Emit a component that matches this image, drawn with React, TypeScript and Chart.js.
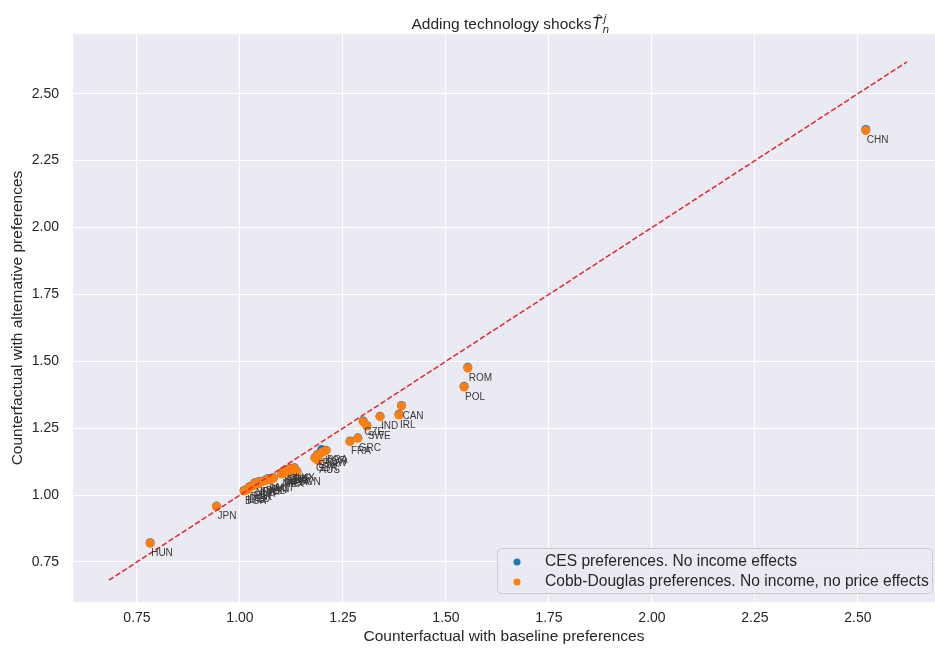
import { useEffect, useRef } from "react";
import { Chart, registerables } from "chart.js";

Chart.register(...registerables);

// Country codes and the two counterfactual outcomes per country
const countries = [
  "CHN", "ROM", "POL", "CAN", "IRL", "IND", "CZE", "SWE", "GRC", "FRA",
  "BRA", "ROW", "ESP", "GBR", "AUS", "KOR", "LUX", "TWN", "ITA", "LVA",
  "MEX", "USA", "AUT", "FIN", "BEL", "PRT", "NLD", "EST", "DEU", "LTU",
  "DNK", "JPN", "HUN", "TUR", "SVK", "SVN", "IDN", "RUS", "BGR", "CYP",
  "MLT",
];

// x: counterfactual with baseline preferences
const baselineValues = [
  2.519, 1.553, 1.544, 1.392, 1.386, 1.34, 1.299, 1.308, 1.286, 1.267,
  1.209, 1.198, 1.188, 1.182, 1.19, 1.204, 1.132, 1.138, 1.126, 1.105,
  1.101, 1.117, 1.081, 1.073, 1.061, 1.051, 1.036, 1.031, 1.02, 1.015,
  1.024, 0.943, 0.782, 1.121, 1.109, 1.068, 1.046, 1.112, 1.01, 1.044,
  1.107,
];

// y: CES preferences, no income effects
const cesValues = [
  2.366, 1.478, 1.407, 1.335, 1.302, 1.295, 1.277, 1.26, 1.214, 1.202,
  1.168, 1.17, 1.152, 1.14, 1.131, 1.165, 1.102, 1.089, 1.096, 1.089,
  1.081, 1.088, 1.065, 1.058, 1.055, 1.051, 1.046, 1.036, 1.024, 1.021,
  1.032, 0.959, 0.822, 1.1, 1.092, 1.062, 1.051, 1.096, 1.017, 1.043,
  1.085,
];

// y: Cobb-Douglas preferences, no income and no price effects
const cobbDouglasValues = [
  2.362, 1.475, 1.404, 1.333, 1.299, 1.293, 1.274, 1.258, 1.212, 1.2,
  1.166, 1.158, 1.15, 1.138, 1.129, 1.163, 1.1, 1.087, 1.094, 1.087,
  1.079, 1.086, 1.063, 1.056, 1.053, 1.049, 1.044, 1.034, 1.022, 1.019,
  1.03, 0.957, 0.82, 1.098, 1.09, 1.06, 1.049, 1.094, 1.015, 1.041,
  1.083,
];

const xTickValues = [0.75, 1.0, 1.25, 1.5, 1.75, 2.0, 2.25, 2.5];
const yTickValues = [0.75, 1.0, 1.25, 1.5, 1.75, 2.0, 2.25, 2.5];

const CES_LABEL = "CES preferences. No income effects";
const CD_LABEL = "Cobb-Douglas preferences. No income, no price effects";
const TITLE = "Adding technology shocks";
const X_TITLE = "Counterfactual with baseline preferences";
const Y_TITLE = "Counterfactual with alternative preferences";

const FONT = '"Liberation Sans", Arial, sans-serif';
const TEXT_COLOR = "#262626";
const BLUE = "#1f77b4";
const ORANGE = "#ff7f0e";

// 45-degree reference line spans the baseline range with a 0.1 margin
const lineStart = Math.min(...baselineValues) - 0.1;
const lineEnd = Math.max(...baselineValues) + 0.1;

const plotBackground = {
  id: "plotBackground",
  beforeDraw(chart: any) {
    const { ctx, chartArea: a } = chart;
    ctx.save();
    ctx.fillStyle = "#EAEAF2";
    ctx.fillRect(a.left, a.top, a.right - a.left, a.bottom - a.top);
    ctx.restore();
  },
};

const countryLabels = {
  id: "countryLabels",
  afterDatasetsDraw(chart: any) {
    const { ctx, scales } = chart;
    ctx.save();
    ctx.font = `10px ${FONT}`;
    ctx.fillStyle = "#3a3a3a";
    ctx.textAlign = "left";
    ctx.textBaseline = "middle";
    countries.forEach((c, i) => {
      const px = scales.x.getPixelForValue(baselineValues[i]);
      const py = scales.y.getPixelForValue(cobbDouglasValues[i]);
      ctx.fillText(c, px + 1, py + 10);
    });
    ctx.restore();
  },
};

const titleAndLegend = {
  id: "titleAndLegend",
  afterDraw(chart: any) {
    const { ctx } = chart;
    ctx.save();

    // title with the math symbol T-hat, superscript j, subscript n
    ctx.font = `15.5px ${FONT}`;
    ctx.fillStyle = TEXT_COLOR;
    ctx.textBaseline = "alphabetic";
    ctx.textAlign = "left";
    const mainW = ctx.measureText(TITLE).width;
    const mathW = 17;
    const startX = 510 - (mainW + mathW) / 2;
    const baseY = 29;
    ctx.fillText(TITLE, startX, baseY);
    const tx = startX + mainW + 1;
    ctx.font = `italic 15px "DejaVu Sans", sans-serif`;
    ctx.fillText("T", tx, baseY);
    ctx.strokeStyle = TEXT_COLOR;
    ctx.lineWidth = 1;
    ctx.beginPath();
    ctx.moveTo(tx + 4, 17);
    ctx.lineTo(tx + 6.5, 14.5);
    ctx.lineTo(tx + 9, 17);
    ctx.stroke();
    ctx.font = `italic 10.5px "DejaVu Sans", sans-serif`;
    ctx.fillText("j", tx + 11, baseY - 7);
    ctx.fillText("n", tx + 10, baseY + 4);

    // legend
    const bx = 497.5;
    const by = 548.5;
    const bw = 435;
    const bh = 45;
    ctx.beginPath();
    ctx.roundRect(bx, by, bw, bh, 4);
    ctx.fillStyle = "rgba(234,234,242,0.8)";
    ctx.fill();
    ctx.strokeStyle = "#cccccc";
    ctx.lineWidth = 1;
    ctx.stroke();

    const entries = [
      { label: chart.data.datasets[2].label, color: chart.data.datasets[2].backgroundColor, y: 562 },
      { label: chart.data.datasets[1].label, color: chart.data.datasets[1].backgroundColor, y: 582 },
    ];
    entries.forEach((e) => {
      ctx.beginPath();
      ctx.arc(517, e.y, 3.5, 0, Math.PI * 2);
      ctx.fillStyle = e.color;
      ctx.fill();
      ctx.font = `15.6px ${FONT}`;
      ctx.fillStyle = TEXT_COLOR;
      ctx.textBaseline = "middle";
      ctx.fillText(e.label, 545, e.y);
    });
    ctx.restore();
  },
};

export default function App() {
  const canvasRef = useRef<HTMLCanvasElement | null>(null);

  useEffect(() => {
    if (!canvasRef.current) return;
    const cdPoints = baselineValues.map((x, i) => ({ x, y: cobbDouglasValues[i] }));
    const cesPoints = baselineValues.map((x, i) => ({ x, y: cesValues[i] }));

    const tickFont = { family: FONT, size: 14 };
    const titleFont = { family: FONT, size: 15.5 };

    const chart = new Chart(canvasRef.current, {
      type: "scatter",
      data: {
        datasets: [
          {
            type: "line",
            label: "45 degree line",
            data: [
              { x: lineStart, y: lineStart },
              { x: lineEnd, y: lineEnd },
            ],
            borderColor: "#e3262c",
            borderWidth: 1.5,
            borderDash: [5.5, 2.4],
            pointRadius: 0,
            fill: false,
            order: 0,
          } as any,
          {
            label: CD_LABEL,
            data: cdPoints,
            backgroundColor: ORANGE,
            borderWidth: 0,
            pointRadius: 4.5,
            order: 1,
          },
          {
            label: CES_LABEL,
            data: cesPoints,
            backgroundColor: BLUE,
            borderWidth: 0,
            pointRadius: 4.5,
            order: 2,
          },
        ],
      },
      options: {
        responsive: false,
        animation: false,
        events: [],
        layout: { autoPadding: false, padding: { top: 34, left: 0, right: 0, bottom: 0 } },
        plugins: {
          legend: { display: false },
          tooltip: { enabled: false },
          title: { display: false },
        },
        scales: {
          x: {
            type: "linear",
            min: 0.5947,
            max: 2.687,
            afterBuildTicks: (s: any) => {
              s.ticks = xTickValues.map((v) => ({ value: v }));
            },
            afterFit: (s: any) => {
              s.height = 46;
              s.paddingLeft = 0;
              s.paddingRight = 0;
            },
            grid: { color: "#ffffff", lineWidth: 1, drawTicks: false },
            border: { display: false },
            ticks: {
              font: tickFont,
              color: TEXT_COLOR,
              padding: 8,
              maxRotation: 0,
              autoSkip: false,
              callback: (v: any) => Number(v).toFixed(2),
            },
            title: {
              display: true,
              text: X_TITLE,
              font: titleFont,
              color: TEXT_COLOR,
              padding: { top: 0, bottom: 2 },
            },
          },
          y: {
            type: "linear",
            min: 0.6005,
            max: 2.723,
            afterBuildTicks: (s: any) => {
              s.ticks = yTickValues.map((v) => ({ value: v }));
            },
            afterFit: (s: any) => {
              s.width = 73;
              s.paddingTop = 0;
              s.paddingBottom = 0;
            },
            grid: { color: "#ffffff", lineWidth: 1, drawTicks: false },
            border: { display: false },
            ticks: {
              font: tickFont,
              color: TEXT_COLOR,
              padding: 14,
              autoSkip: false,
              callback: (v: any) => Number(v).toFixed(2),
            },
            title: {
              display: true,
              text: Y_TITLE,
              font: titleFont,
              color: TEXT_COLOR,
              padding: { top: 8, bottom: 0 },
            },
          },
        },
      },
      plugins: [plotBackground, countryLabels, titleAndLegend],
    });

    return () => chart.destroy();
  }, []);

  return (
    <div style={{ position: "fixed", left: 0, top: 0, width: 935, height: 648, background: "#ffffff" }}>
      <canvas ref={canvasRef} width={935} height={648} />
    </div>
  );
}
